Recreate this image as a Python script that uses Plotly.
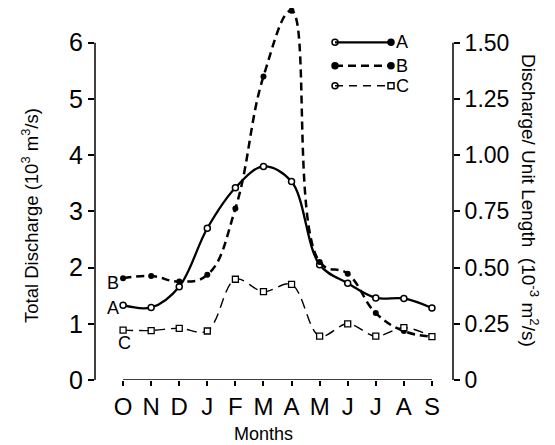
import plotly.graph_objects as go

months = ["O", "N", "D", "J", "F", "M", "A", "M", "J", "J", "A", "S"]
# Total discharge (10^3 m^3/s)
series_a = [1.33, 1.29, 1.66, 2.70, 3.42, 3.80, 3.53, 2.05, 1.72, 1.46, 1.45, 1.28]
series_b = [1.81, 1.85, 1.75, 1.87, 3.05, 5.40, 6.57, 2.10, 1.89, 1.19, 0.87, 0.77]
# Discharge / unit length (10^-3 m^2/s)
series_c = [0.222, 0.220, 0.230, 0.218, 0.448, 0.393, 0.425, 0.195, 0.250, 0.195, 0.233, 0.193]

left_ticks = [0, 1, 2, 3, 4, 5, 6]
right_ticks = [0, 0.25, 0.50, 0.75, 1.00, 1.25, 1.50]
right_ticktext = ["0", "0.25", "0.50", "0.75", "1.00", "1.25", "1.50"]

FONT = "Liberation Sans, Arial, Helvetica, sans-serif"
x_idx = list(range(len(months)))

# page offset of the figure (default body margin) and plot area in page pixels
OFF = 8
W, H = 555, 445
L, R, T, B = 95, 453, 8, 380
PX_PER_UNIT = (380 - 42.7) / 6
YTOP = (B - T) / PX_PER_UNIT


def px(xp):
    return (xp - L) / (R - L)


def py(yp):
    return (B - yp) / (B - T)


fig = go.Figure()

fig.add_trace(go.Scatter(
    x=x_idx, y=series_a, mode="lines+markers", name="A",
    line=dict(color="black", width=2.3, shape="spline", smoothing=1.0),
    marker=dict(symbol="circle", size=6, color="white", line=dict(color="black", width=1.5)),
    cliponaxis=False, showlegend=False))

fig.add_trace(go.Scatter(
    x=x_idx, y=series_b, mode="lines+markers", name="B",
    line=dict(color="black", width=2.5, dash="8px,5px", shape="spline", smoothing=1.2),
    marker=dict(symbol="circle", size=6, color="black"),
    cliponaxis=False, showlegend=False))

fig.add_trace(go.Scatter(
    x=x_idx, y=series_c, mode="lines+markers", name="C", yaxis="y2",
    line=dict(color="black", width=1.4, dash="10px,6px", shape="spline", smoothing=1.0),
    marker=dict(symbol="square", size=6, color="white", line=dict(color="black", width=1.3)),
    cliponaxis=False, showlegend=False))

# legend keys on a pixel-space overlay axis
legend_items = [
    ("A", 42.3, "solid", 2.3, ["circle-open", "circle"]),
    ("B", 65.7, "8px,5px", 2.5, ["circle", "circle"]),
    ("C", 85.7, "8px,6px", 1.4, ["circle-open", "square-open"]),
]
for name, ypx, dash, w, syms in legend_items:
    fig.add_trace(go.Scatter(
        x=[335, 391], y=[ypx, ypx], xaxis="x3", yaxis="y3", mode="lines+markers",
        line=dict(color="black", width=w, dash=dash),
        marker=dict(symbol=syms, size=6, color="black", line=dict(color="black", width=1.5)),
        cliponaxis=False, showlegend=False, hoverinfo="skip"))

fig.update_layout(
    width=W - OFF, height=H - OFF,
    margin=dict(l=L - OFF, r=W - R, t=T - OFF, b=H - B, pad=0),
    paper_bgcolor="white", plot_bgcolor="white",
    font=dict(family=FONT, color="black"),
    xaxis=dict(range=[-1, 11.75], tickvals=x_idx, ticktext=months,
               ticks="outside", ticklen=5, tickwidth=1.5, tickcolor="black",
               showline=False, showgrid=False, zeroline=False,
               tickfont=dict(size=24)),
    yaxis=dict(range=[0, YTOP], tickvals=left_ticks,
               ticks="outside", ticklen=6, tickwidth=1.5, tickcolor="black",
               showline=False, showgrid=False, zeroline=False,
               tickfont=dict(size=25)),
    yaxis2=dict(range=[0, YTOP / 4], overlaying="y", side="right",
                tickvals=right_ticks, ticktext=right_ticktext,
                ticks="outside", ticklen=6, tickwidth=1.5, tickcolor="black",
                showline=False, showgrid=False, zeroline=False,
                tickfont=dict(size=23)),
    xaxis3=dict(range=[L, R], overlaying="x", visible=False, fixedrange=True),
    yaxis3=dict(range=[B, T], overlaying="y", visible=False, fixedrange=True),
)

# axis lines
fig.add_shape(type="line", xref="paper", yref="y", x0=0, x1=0, y0=0, y1=6,
              line=dict(color="black", width=1.5))
fig.add_shape(type="line", xref="paper", yref="y", x0=1, x1=1, y0=0, y1=6,
              line=dict(color="black", width=1.5))
fig.add_shape(type="line", xref="x", yref="y", x0=0, x1=11, y0=0, y1=0,
              line=dict(color="black", width=1.5))

ann = []
for name, ypx, *_ in legend_items:
    ann.append(dict(x=px(394), y=py(ypx), xref="paper", yref="paper", text=name, showarrow=False,
                    xanchor="left", yanchor="middle", font=dict(size=18)))
for name, xpx, ypx in [("B", 113, 283), ("A", 113, 308), ("C", 124, 343)]:
    ann.append(dict(x=px(xpx), y=py(ypx), xref="paper", yref="paper", text=name, showarrow=False,
                    xanchor="center", yanchor="middle", font=dict(size=18)))
ann.append(dict(x=px(30), y=py(216), xref="paper", yref="paper", showarrow=False, textangle=-90,
                text="Total Discharge (10<sup>3</sup> m<sup>3</sup>/s)",
                font=dict(size=18.5), xanchor="center", yanchor="middle"))
ann.append(dict(x=px(530), y=py(200), xref="paper", yref="paper", showarrow=False, textangle=90,
                text="Discharge/ Unit Length  (10<sup>-3</sup> m<sup>2</sup>/s)",
                font=dict(size=19), xanchor="center", yanchor="middle"))
ann.append(dict(x=px(263), y=py(434), xref="paper", yref="paper", showarrow=False, text="Months",
                font=dict(size=18), xanchor="center", yanchor="middle"))
fig.update_layout(annotations=ann)

fig.write_html("out.html")
